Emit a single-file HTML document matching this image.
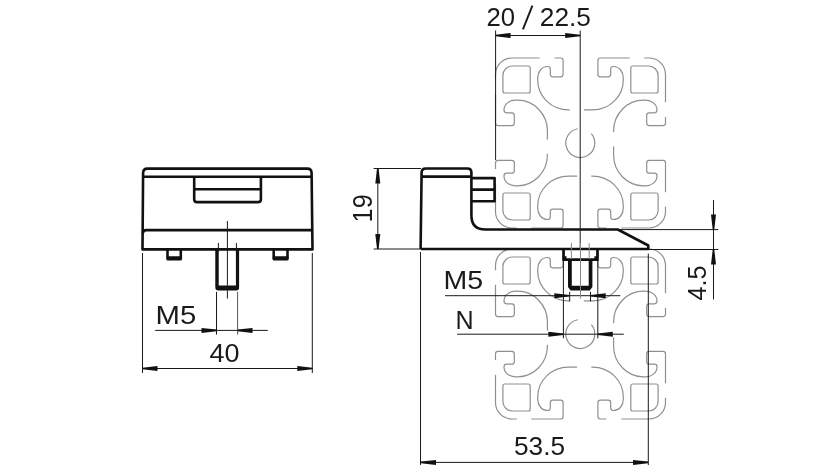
<!DOCTYPE html>
<html><head><meta charset="utf-8"><style>
html,body{margin:0;padding:0;background:#fff;width:827px;height:472px;overflow:hidden}
svg{display:block;will-change:transform}
</style></head><body>
<svg width="827" height="472" viewBox="0 0 827 472">
<rect width="827" height="472" fill="#fff"/>
<g fill="none" stroke="#8f8f8f" stroke-width="1.2">
<g transform="translate(580.5 143)"><path transform="scale(1 1)" d="M-33.1 0 V-12 C-33.1 -29 -46.5 -42.8 -63 -42.8 H-65 C-71 -42.8 -76.5 -39 -76.5 -32.9 Q-76.5 -30.2 -74 -30.2 H-68.7 Q-66.2 -30.2 -66.2 -27.7 V-19.9 Q-66.2 -17.4 -68.7 -17.4 H-82.5 Q-85 -17.4 -85 -19.9 V-68.5 A16.5 16.5 0 0 1 -68.5 -85 H-19.9 Q-17.4 -85 -17.4 -82.5 V-68.7 Q-17.4 -66.2 -19.9 -66.2 H-27.7 Q-30.2 -66.2 -30.2 -68.7 V-74 Q-30.2 -76.5 -32.9 -76.5 C-39 -76.5 -42.8 -71 -42.8 -65 V-63 C-42.8 -46.5 -29 -33.1 -12 -33.1 H0 M-77.6 -52 V-67.5 A9.5 9.5 0 0 1 -68.1 -77 H-52.3 Q-50.3 -77 -50.3 -75 V-52 Q-50.3 -50 -52.3 -50 H-75.6 Q-77.6 -50 -77.6 -52Z"/><path transform="scale(-1 1)" d="M-33.1 0 V-12 C-33.1 -29 -46.5 -42.8 -63 -42.8 H-65 C-71 -42.8 -76.5 -39 -76.5 -32.9 Q-76.5 -30.2 -74 -30.2 H-68.7 Q-66.2 -30.2 -66.2 -27.7 V-19.9 Q-66.2 -17.4 -68.7 -17.4 H-82.5 Q-85 -17.4 -85 -19.9 V-68.5 A16.5 16.5 0 0 1 -68.5 -85 H-19.9 Q-17.4 -85 -17.4 -82.5 V-68.7 Q-17.4 -66.2 -19.9 -66.2 H-27.7 Q-30.2 -66.2 -30.2 -68.7 V-74 Q-30.2 -76.5 -32.9 -76.5 C-39 -76.5 -42.8 -71 -42.8 -65 V-63 C-42.8 -46.5 -29 -33.1 -12 -33.1 H0 M-77.6 -52 V-67.5 A9.5 9.5 0 0 1 -68.1 -77 H-52.3 Q-50.3 -77 -50.3 -75 V-52 Q-50.3 -50 -52.3 -50 H-75.6 Q-77.6 -50 -77.6 -52Z"/><path transform="scale(1 -1)" d="M-33.1 0 V-12 C-33.1 -29 -46.5 -42.8 -63 -42.8 H-65 C-71 -42.8 -76.5 -39 -76.5 -32.9 Q-76.5 -30.2 -74 -30.2 H-68.7 Q-66.2 -30.2 -66.2 -27.7 V-19.9 Q-66.2 -17.4 -68.7 -17.4 H-82.5 Q-85 -17.4 -85 -19.9 V-68.5 A16.5 16.5 0 0 1 -68.5 -85 H-19.9 Q-17.4 -85 -17.4 -82.5 V-68.7 Q-17.4 -66.2 -19.9 -66.2 H-27.7 Q-30.2 -66.2 -30.2 -68.7 V-74 Q-30.2 -76.5 -32.9 -76.5 C-39 -76.5 -42.8 -71 -42.8 -65 V-63 C-42.8 -46.5 -29 -33.1 -12 -33.1 H0 M-77.6 -52 V-67.5 A9.5 9.5 0 0 1 -68.1 -77 H-52.3 Q-50.3 -77 -50.3 -75 V-52 Q-50.3 -50 -52.3 -50 H-75.6 Q-77.6 -50 -77.6 -52Z"/><path transform="scale(-1 -1)" d="M-33.1 0 V-12 C-33.1 -29 -46.5 -42.8 -63 -42.8 H-65 C-71 -42.8 -76.5 -39 -76.5 -32.9 Q-76.5 -30.2 -74 -30.2 H-68.7 Q-66.2 -30.2 -66.2 -27.7 V-19.9 Q-66.2 -17.4 -68.7 -17.4 H-82.5 Q-85 -17.4 -85 -19.9 V-68.5 A16.5 16.5 0 0 1 -68.5 -85 H-19.9 Q-17.4 -85 -17.4 -82.5 V-68.7 Q-17.4 -66.2 -19.9 -66.2 H-27.7 Q-30.2 -66.2 -30.2 -68.7 V-74 Q-30.2 -76.5 -32.9 -76.5 C-39 -76.5 -42.8 -71 -42.8 -65 V-63 C-42.8 -46.5 -29 -33.1 -12 -33.1 H0 M-77.6 -52 V-67.5 A9.5 9.5 0 0 1 -68.1 -77 H-52.3 Q-50.3 -77 -50.3 -75 V-52 Q-50.3 -50 -52.3 -50 H-75.6 Q-77.6 -50 -77.6 -52Z"/><path d="M10.83 -9.42 A14.5 14.5 0 1 1 -2.72 -14.28"/><rect x="-40.8" y="-86.6" width="14.8" height="3.2" fill="#fff" stroke="none"/><rect x="49.2" y="-86.6" width="14.5" height="3.2" fill="#fff" stroke="none"/><rect x="83.4" y="-40.8" width="3.2" height="14.8" fill="#fff" stroke="none"/><rect x="83.4" y="49.2" width="3.2" height="14.5" fill="#fff" stroke="none"/><rect x="26" y="83.4" width="14.8" height="3.2" fill="#fff" stroke="none"/><rect x="-63.7" y="83.4" width="14.5" height="3.2" fill="#fff" stroke="none"/><rect x="-86.6" y="26" width="3.2" height="14.8" fill="#fff" stroke="none"/><rect x="-86.6" y="-63.7" width="3.2" height="14.5" fill="#fff" stroke="none"/><rect x="-10.8" y="-34.7" width="14.2" height="3.2" fill="#fff" stroke="none"/><rect x="31.5" y="-10.8" width="3.2" height="14.2" fill="#fff" stroke="none"/><rect x="-3.4" y="31.5" width="14.2" height="3.2" fill="#fff" stroke="none"/><rect x="-34.7" y="-3.4" width="3.2" height="14.2" fill="#fff" stroke="none"/></g>
<g transform="translate(580.5 334)"><path transform="scale(1 1)" d="M-33.1 0 V-12 C-33.1 -29 -46.5 -42.8 -63 -42.8 H-65 C-71 -42.8 -76.5 -39 -76.5 -32.9 Q-76.5 -30.2 -74 -30.2 H-68.7 Q-66.2 -30.2 -66.2 -27.7 V-19.9 Q-66.2 -17.4 -68.7 -17.4 H-82.5 Q-85 -17.4 -85 -19.9 V-68.5 A16.5 16.5 0 0 1 -68.5 -85 H-19.9 Q-17.4 -85 -17.4 -82.5 V-68.7 Q-17.4 -66.2 -19.9 -66.2 H-27.7 Q-30.2 -66.2 -30.2 -68.7 V-74 Q-30.2 -76.5 -32.9 -76.5 C-39 -76.5 -42.8 -71 -42.8 -65 V-63 C-42.8 -46.5 -29 -33.1 -12 -33.1 H0 M-77.6 -52 V-67.5 A9.5 9.5 0 0 1 -68.1 -77 H-52.3 Q-50.3 -77 -50.3 -75 V-52 Q-50.3 -50 -52.3 -50 H-75.6 Q-77.6 -50 -77.6 -52Z"/><path transform="scale(-1 1)" d="M-33.1 0 V-12 C-33.1 -29 -46.5 -42.8 -63 -42.8 H-65 C-71 -42.8 -76.5 -39 -76.5 -32.9 Q-76.5 -30.2 -74 -30.2 H-68.7 Q-66.2 -30.2 -66.2 -27.7 V-19.9 Q-66.2 -17.4 -68.7 -17.4 H-82.5 Q-85 -17.4 -85 -19.9 V-68.5 A16.5 16.5 0 0 1 -68.5 -85 H-19.9 Q-17.4 -85 -17.4 -82.5 V-68.7 Q-17.4 -66.2 -19.9 -66.2 H-27.7 Q-30.2 -66.2 -30.2 -68.7 V-74 Q-30.2 -76.5 -32.9 -76.5 C-39 -76.5 -42.8 -71 -42.8 -65 V-63 C-42.8 -46.5 -29 -33.1 -12 -33.1 H0 M-77.6 -52 V-67.5 A9.5 9.5 0 0 1 -68.1 -77 H-52.3 Q-50.3 -77 -50.3 -75 V-52 Q-50.3 -50 -52.3 -50 H-75.6 Q-77.6 -50 -77.6 -52Z"/><path transform="scale(1 -1)" d="M-33.1 0 V-12 C-33.1 -29 -46.5 -42.8 -63 -42.8 H-65 C-71 -42.8 -76.5 -39 -76.5 -32.9 Q-76.5 -30.2 -74 -30.2 H-68.7 Q-66.2 -30.2 -66.2 -27.7 V-19.9 Q-66.2 -17.4 -68.7 -17.4 H-82.5 Q-85 -17.4 -85 -19.9 V-68.5 A16.5 16.5 0 0 1 -68.5 -85 H-19.9 Q-17.4 -85 -17.4 -82.5 V-68.7 Q-17.4 -66.2 -19.9 -66.2 H-27.7 Q-30.2 -66.2 -30.2 -68.7 V-74 Q-30.2 -76.5 -32.9 -76.5 C-39 -76.5 -42.8 -71 -42.8 -65 V-63 C-42.8 -46.5 -29 -33.1 -12 -33.1 H0 M-77.6 -52 V-67.5 A9.5 9.5 0 0 1 -68.1 -77 H-52.3 Q-50.3 -77 -50.3 -75 V-52 Q-50.3 -50 -52.3 -50 H-75.6 Q-77.6 -50 -77.6 -52Z"/><path transform="scale(-1 -1)" d="M-33.1 0 V-12 C-33.1 -29 -46.5 -42.8 -63 -42.8 H-65 C-71 -42.8 -76.5 -39 -76.5 -32.9 Q-76.5 -30.2 -74 -30.2 H-68.7 Q-66.2 -30.2 -66.2 -27.7 V-19.9 Q-66.2 -17.4 -68.7 -17.4 H-82.5 Q-85 -17.4 -85 -19.9 V-68.5 A16.5 16.5 0 0 1 -68.5 -85 H-19.9 Q-17.4 -85 -17.4 -82.5 V-68.7 Q-17.4 -66.2 -19.9 -66.2 H-27.7 Q-30.2 -66.2 -30.2 -68.7 V-74 Q-30.2 -76.5 -32.9 -76.5 C-39 -76.5 -42.8 -71 -42.8 -65 V-63 C-42.8 -46.5 -29 -33.1 -12 -33.1 H0 M-77.6 -52 V-67.5 A9.5 9.5 0 0 1 -68.1 -77 H-52.3 Q-50.3 -77 -50.3 -75 V-52 Q-50.3 -50 -52.3 -50 H-75.6 Q-77.6 -50 -77.6 -52Z"/><path d="M10.83 -9.42 A14.5 14.5 0 1 1 -2.72 -14.28"/><rect x="-40.8" y="-86.6" width="14.8" height="3.2" fill="#fff" stroke="none"/><rect x="49.2" y="-86.6" width="14.5" height="3.2" fill="#fff" stroke="none"/><rect x="83.4" y="-40.8" width="3.2" height="14.8" fill="#fff" stroke="none"/><rect x="83.4" y="49.2" width="3.2" height="14.5" fill="#fff" stroke="none"/><rect x="26" y="83.4" width="14.8" height="3.2" fill="#fff" stroke="none"/><rect x="-63.7" y="83.4" width="14.5" height="3.2" fill="#fff" stroke="none"/><rect x="-86.6" y="26" width="3.2" height="14.8" fill="#fff" stroke="none"/><rect x="-86.6" y="-63.7" width="3.2" height="14.5" fill="#fff" stroke="none"/><rect x="-10.8" y="-34.7" width="14.2" height="3.2" fill="#fff" stroke="none"/><rect x="31.5" y="-10.8" width="3.2" height="14.2" fill="#fff" stroke="none"/><rect x="-3.4" y="31.5" width="14.2" height="3.2" fill="#fff" stroke="none"/><rect x="-34.7" y="-3.4" width="3.2" height="14.2" fill="#fff" stroke="none"/></g>
</g>
<g fill="none" stroke="#111" stroke-width="2.6" stroke-linejoin="round">
<path d="M142.5 249.4 L143.1 173 Q143.1 168.6 147.5 168.6 H307.2 Q311.6 168.6 311.6 173 L312.5 249.4 Z"/>
<path d="M143.1 176.7 H311.7"/>
<path d="M194.2 176.7 V199.2 Q194.2 202.1 197.1 202.1 H258 Q260.9 202.1 260.9 199.2 V176.7"/>
<path d="M194.2 189.3 H260.9"/>
<path d="M142.9 233 Q143.2 230.1 146.2 230.1 H312.2"/>
<path d="M167.5 249.4 V257 Q167.5 258.4 169 258.4 H179.3 Q180.8 258.4 180.8 257 V249.4"/>
<path d="M273.7 249.4 V257 Q273.7 258.4 275.2 258.4 H286 Q287.5 258.4 287.5 257 V249.4"/>
<path d="M217 249.4 V286.5 Q217 288.3 219 288.3 H235.5 Q237.5 288.3 237.5 286.5 V249.4"/>
<path d="M420.6 249 L421.6 172.5 Q421.8 168.5 425.8 168.5 H467.4 Q471.4 168.5 471.4 172.5 V215.5 Q471.4 229.5 485.4 229.5 H617.8 L648.3 245.5 V249 H421"/>
<path d="M421.5 176.6 H471.4"/>
<path d="M471.4 178.1 H494.6 V201.3 H471.4 M471.4 189.6 H494.6"/>
</g>
<g fill="#111">
<rect x="166.3" y="256.2" width="15.8" height="4.3" rx="1.6"/>
<rect x="272.5" y="256.2" width="16.2" height="4.3" rx="1.6"/>
<rect x="215.4" y="285.6" width="23.7" height="4.9" rx="3"/>
<rect x="215.4" y="249" width="3.2" height="38"/>
<path d="M562.2 249 V260.2 Q562.2 261 563 261 H597.9 Q598.8 261 598.8 260.2 V249 H596.1 V256.2 H594.4 V258.3 H566.5 V256.2 H564.9 V249 Z"/>
<path d="M568 260 V287 L570.6 290.6 H589.8 L592.4 287 V260 H588.7 V285.8 H571.8 V260 Z"/>
<rect x="235.9" y="249" width="3.2" height="38"/>
</g>
<g fill="none" stroke="#1a1a1a" stroke-width="1">
<path d="M495.6 30.5 V160"/>
<path d="M580.2 30.5 V249"/>
<path d="M495.6 35.5 H580.2"/>
<path d="M373.6 168.5 H421"/>
<path d="M373.6 249 H421"/>
<path d="M377.8 168.5 V249"/>
<path d="M617.8 229.6 H718.3"/>
<path d="M648.3 249.5 H718.3"/>
<path d="M713.5 200 V299.4"/>
<path d="M420.5 252 V465"/>
<path d="M648.3 253.6 V465"/>
<path d="M421 462.4 H648"/>
<path d="M563.4 259.7 V338.3"/>
<path d="M597.8 259.7 V338.3"/>
<path d="M445 295.7 H620.3"/>
<path d="M457.2 334.2 H623.8"/>
<path d="M569.7 291.8 V301.5"/>
<path d="M590.5 291.8 V301.5"/>
<path d="M142.5 253 V373"/>
<path d="M312.3 253 V373"/>
<path d="M142.5 368.5 H312.3"/>
<path d="M216.5 291.8 V334.6"/>
<path d="M155.2 330.4 H267.8"/>
<path d="M227.4 221 V298.5"/>
<path d="M218.4 243 V252"/>
<path d="M236.4 243 V252"/>
</g>
<g fill="none" stroke="#888" stroke-width="1">
<path d="M237.6 291.8 V334.6" stroke="#555"/>
<path d="M580.5 243 V298.6 M571.4 243 V259 M589.2 243 V259"/>
</g>
<g fill="#111"><path d="M495.60 34.70 L510.60 33.00 L510.60 38.00 L495.60 36.30Z"/><path d="M580.20 36.30 L565.20 38.00 L565.20 33.00 L580.20 34.70Z"/><path d="M378.60 168.50 L380.30 183.50 L375.30 183.50 L377.00 168.50Z"/><path d="M377.00 249.00 L375.30 234.00 L380.30 234.00 L378.60 249.00Z"/><path d="M712.70 229.60 L711.00 214.60 L716.00 214.60 L714.30 229.60Z"/><path d="M714.30 249.50 L716.00 264.50 L711.00 264.50 L712.70 249.50Z"/><path d="M421.00 461.60 L436.00 459.90 L436.00 464.90 L421.00 463.20Z"/><path d="M648.00 463.20 L633.00 464.90 L633.00 459.90 L648.00 461.60Z"/><path d="M569.30 296.50 L554.30 298.20 L554.30 293.20 L569.30 294.90Z"/><path d="M590.70 294.90 L605.70 293.20 L605.70 298.20 L590.70 296.50Z"/><path d="M563.40 335.00 L548.40 336.70 L548.40 331.70 L563.40 333.40Z"/><path d="M597.80 333.40 L612.80 331.70 L612.80 336.70 L597.80 335.00Z"/><path d="M142.50 367.70 L157.50 366.00 L157.50 371.00 L142.50 369.30Z"/><path d="M312.30 369.30 L297.30 371.00 L297.30 366.00 L312.30 367.70Z"/><path d="M216.50 331.20 L201.50 332.90 L201.50 327.90 L216.50 329.60Z"/><path d="M237.50 329.60 L252.50 327.90 L252.50 332.90 L237.50 331.20Z"/></g>
<path d="M532.4 5.6 L522.9 29.4" stroke="#1a1a1a" stroke-width="1.9" stroke-linecap="butt"/>
<g font-family="Liberation Sans, sans-serif" font-size="25" fill="#1a1a1a" stroke="#fff" stroke-width="0"><text x="486.50" y="26.00" font-size="26.42" textLength="28.59" lengthAdjust="spacingAndGlyphs">20</text><text x="155.50" y="324.00" font-size="26.48" textLength="40.72" lengthAdjust="spacingAndGlyphs">M5</text><text x="209.50" y="362.30" font-size="26.45" textLength="29.99" lengthAdjust="spacingAndGlyphs">40</text><text x="443.50" y="289.40" font-size="25.06" textLength="39.61" lengthAdjust="spacingAndGlyphs">M5</text><text x="455.50" y="328.50" font-size="25.06" textLength="18.13" lengthAdjust="spacingAndGlyphs">N</text><text x="514.00" y="454.50" font-size="26.49" textLength="51.02" lengthAdjust="spacingAndGlyphs">53.5</text><text x="372.10" y="222.40" font-size="27.89" textLength="28.14" lengthAdjust="spacingAndGlyphs" transform="rotate(-90 372.10 222.40)">19</text><text x="705.60" y="300.40" font-size="25.04" textLength="35.01" lengthAdjust="spacingAndGlyphs" transform="rotate(-90 705.60 300.40)">4.5</text><text x="539.80" y="26.00" font-size="26.42" textLength="51.12" lengthAdjust="spacingAndGlyphs">22.5</text></g>
</svg>
</body></html>
